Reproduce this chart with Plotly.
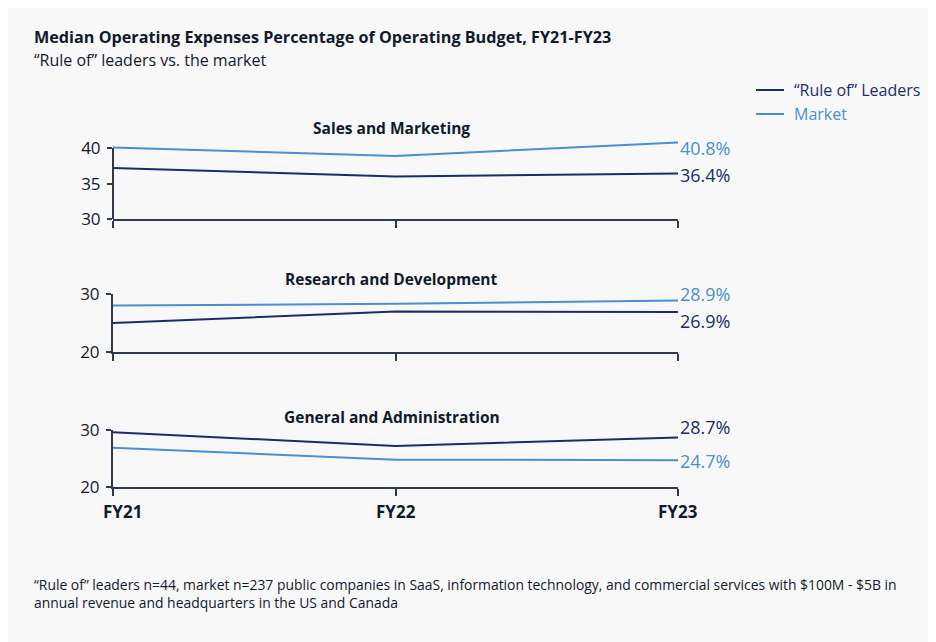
import plotly.graph_objects as go
from plotly.subplots import make_subplots

years = ["FY21", "FY22", "FY23"]
panels = ["Sales and Marketing", "Research and Development", "General and Administration"]
series_names = ["“Rule of” Leaders", "Market"]
leaders_sm = [37.2, 36.0, 36.4]
market_sm = [40.1, 38.9, 40.8]
leaders_rd = [25.0, 27.0, 26.9]
market_rd = [28.0, 28.3, 28.9]
leaders_ga = [29.6, 27.2, 28.7]
market_ga = [26.9, 24.8, 24.7]
y_ranges = [[30, 41], [20, 30]]
y_ticks_sm = [30, 35, 40]
y_ticks_other = [20, 30]

NAVY = "#1b2c6e"
BLUE = "#4a8fd0"
AXIS = "#303a48"
TEXT = "#111a2c"
BG = "#f8f8f8"
FONT = "Open Sans"

W, H = 936, 642
OFF = 8            # page body offset
L, R = 113 - OFF, 258 + OFF
PW = W - L - R


def fy(px):
    return 1 - (px - OFF) / H


def fx(px):
    return (px - OFF - L) / PW


fig = make_subplots(rows=3, cols=1, shared_xaxes=False, vertical_spacing=0.05)

leaders = [leaders_sm, leaders_rd, leaders_ga]
market = [market_sm, market_rd, market_ga]
for i in range(3):
    fig.add_trace(go.Scatter(x=years, y=leaders[i], mode="lines",
                             line=dict(color=NAVY, width=2), name=series_names[0],
                             showlegend=False, hoverinfo="skip"), row=i + 1, col=1)
    fig.add_trace(go.Scatter(x=years, y=market[i], mode="lines",
                             line=dict(color=BLUE, width=2), name=series_names[1],
                             showlegend=False, hoverinfo="skip"), row=i + 1, col=1)

domains = [(219, 141), (352, 294), (487, 430)]
for i, (b, t) in enumerate(domains):
    ax = "yaxis" if i == 0 else "yaxis%d" % (i + 1)
    xa = "xaxis" if i == 0 else "xaxis%d" % (i + 1)
    fig.layout[ax].update(domain=[fy(b), fy(t)])
    fig.layout[xa].update(domain=[0, 1])

common_x = dict(range=[0, 2], showgrid=False, zeroline=False, showline=True,
                linecolor=AXIS, linewidth=2, ticks="outside", ticklen=7,
                tickwidth=2, tickcolor=AXIS, type="category", showticklabels=False)
for i in range(3):
    fig.update_xaxes(common_x, row=i + 1, col=1)

fig.update_yaxes(range=y_ranges[0], tickvals=y_ticks_sm, showline=False, row=1, col=1)
fig.update_yaxes(range=y_ranges[1], tickvals=y_ticks_other, showline=True, row=2, col=1)
fig.update_yaxes(range=y_ranges[1], tickvals=y_ticks_other, showline=True, row=3, col=1)
fig.update_yaxes(showgrid=False, zeroline=False, linecolor=AXIS, linewidth=2,
                 ticks="outside", ticklen=5, tickwidth=2, tickcolor=AXIS,
                 tickfont=dict(family=FONT, size=17, color=TEXT), ticklabelstandoff=3)

# y-axis line for first panel spans the tick range only
fig.add_shape(type="line", xref="x domain", yref="y", x0=0, x1=0,
              y0=y_ticks_sm[0], y1=y_ticks_sm[-1], line=dict(color=AXIS, width=2))

# x category labels (bottom panel)
x_label_shift = [9, 0, 0]
for j, yr in enumerate(years):
    fig.add_annotation(text="<b>%s</b>" % yr, x=yr, xref="x3", y=fy(511), yref="paper",
                       showarrow=False, xanchor="center", yanchor="middle",
                       xshift=x_label_shift[j],
                       font=dict(family=FONT, size=17, color=TEXT))

# panel titles
title_px = [128, 279, 417]
for i, name in enumerate(panels):
    fig.add_annotation(text="<b>%s</b>" % name, x=years[1], xref="x",
                       y=fy(title_px[i]), yref="paper", showarrow=False,
                       xanchor="center", yanchor="middle", xshift=-4,
                       font=dict(family=FONT, size=15.5, color=TEXT))

# end labels
label_shift = [(-6, -1), (6, -9), (-1, 10)]  # (market, leaders)
for i in range(3):
    yref = "y" if i == 0 else "y%d" % (i + 1)
    xref = "x" if i == 0 else "x%d" % (i + 1)
    for vals, color, sh in ((market[i], BLUE, label_shift[i][0]),
                            (leaders[i], NAVY, label_shift[i][1])):
        fig.add_annotation(text="%.1f%%" % vals[-1], x=years[-1], y=vals[-1],
                           xref=xref, yref=yref, showarrow=False,
                           xanchor="left", yanchor="middle", xshift=0, yshift=sh,
                           font=dict(family=FONT, size=18, color=color))

# legend (drawn manually so text takes each series colour)
legend_y = [90, 114]
for name, color, ly in zip(series_names, [NAVY, BLUE], legend_y):
    fig.add_shape(type="line", xref="paper", yref="paper",
                  x0=fx(756), x1=fx(784), y0=fy(ly), y1=fy(ly),
                  line=dict(color=color, width=2))
    fig.add_annotation(text=name, x=fx(792), y=fy(ly), xref="paper", yref="paper",
                       xanchor="left", yanchor="middle", showarrow=False,
                       font=dict(family=FONT, size=16, color=color))

fig.add_annotation(text="<b>Median Operating Expenses Percentage of Operating Budget, FY21-FY23</b>",
                   x=fx(32), y=fy(37), xref="paper", yref="paper",
                   xanchor="left", yanchor="middle", showarrow=False,
                   font=dict(family=FONT, size=16.2, color=TEXT))
fig.add_annotation(text="“Rule of” leaders vs. the market",
                   x=fx(32), y=fy(60), xref="paper", yref="paper",
                   xanchor="left", yanchor="middle", showarrow=False,
                   font=dict(family=FONT, size=16, color=TEXT))
fig.add_annotation(text="“Rule of” leaders n=44, market n=237 public companies in SaaS, information technology, and commercial services with $100M - $5B in<br>annual revenue and headquarters in the US and Canada",
                   x=fx(32), y=fy(593), xref="paper", yref="paper",
                   xanchor="left", yanchor="middle", align="left", showarrow=False,
                   font=dict(family=FONT, size=13.9, color=TEXT))

fig.update_layout(
    width=W, height=H,
    margin=dict(l=L, r=R, t=0, b=0, autoexpand=False),
    paper_bgcolor=BG, plot_bgcolor=BG,
    showlegend=False,
    font=dict(family=FONT),
)

fig.write_html("out.html")
